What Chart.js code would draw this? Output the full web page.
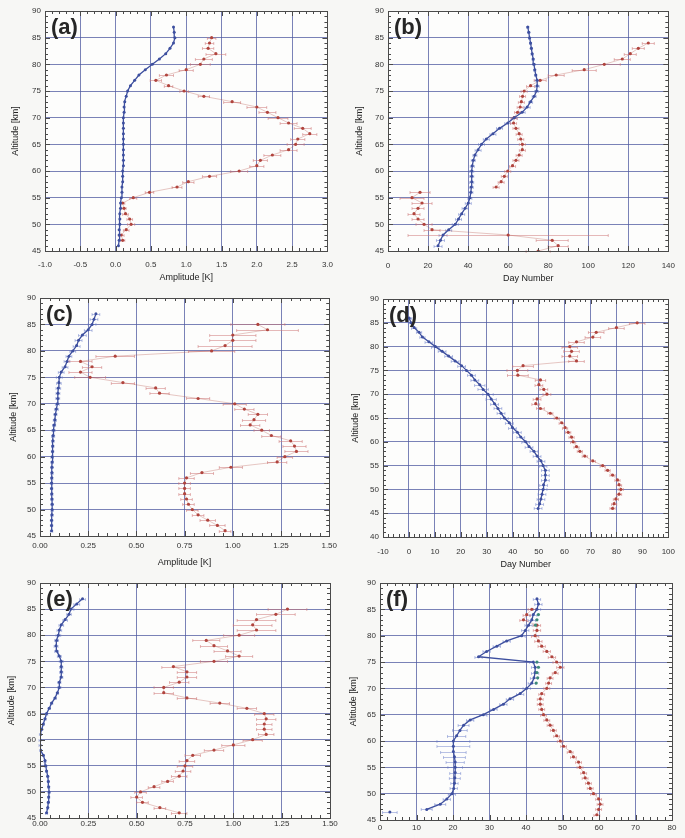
<!DOCTYPE html>
<html>
<head>
<meta charset="utf-8">
<script src="https://cdn.jsdelivr.net/npm/chart.js@4.4.1/dist/chart.umd.min.js"></script>
<style>
  html, body { margin: 0; padding: 0; background: #f7f7f5; }
  #fig { position: relative; width: 685px; height: 838px; overflow: hidden; }
  canvas { position: absolute; }
</style>
</head>
<body>
<div id="fig">
  <canvas id="pa"></canvas>
  <canvas id="pb"></canvas>
  <canvas id="pc"></canvas>
  <canvas id="pd"></canvas>
  <canvas id="pe"></canvas>
  <canvas id="pf"></canvas>
</div>
<script>
// altitude grid shared by all profiles (km)
const ALT_KM = [45, 46, 47, 48, 49, 50, 51, 52, 53, 54,
                55, 56, 57, 58, 59, 60, 61, 62, 63, 64,
                65, 66, 67, 68, 69, 70, 71, 72, 73, 74,
                75, 76, 77, 78, 79, 80, 81, 82, 83, 84,
                85, 86, 87, 88];

// (a) amplitude [K]
const A_BLUE = [null, 0.04, 0.05, 0.05, 0.05, 0.06, 0.06, 0.06, 0.07, 0.07,
                0.08, 0.09, 0.09, 0.10, 0.10, 0.10, 0.11, 0.11, 0.11, 0.11,
                0.11, 0.11, 0.11, 0.11, 0.11, 0.11, 0.12, 0.12, 0.13, 0.15,
                0.17, 0.21, 0.27, 0.33, 0.42, 0.52, 0.62, 0.71, 0.77, 0.82,
                0.84, 0.83, 0.82, null];
const A_RED = [null, null, 0.10, 0.08, 0.15, 0.22, 0.20, 0.14, 0.12, 0.10,
               0.25, 0.48, 0.87, 1.03, 1.33, 1.75, 2.00, 2.05, 2.22, 2.45,
               2.55, 2.58, 2.75, 2.65, 2.45, 2.30, 2.15, 2.00, 1.65, 1.25,
               0.97, 0.75, 0.57, 0.72, 1.00, 1.20, 1.25, 1.42, 1.31, 1.33,
               1.36, null, null, null];
const A_RED_ERR = [null, null, 0.03, 0.04, 0.04, 0.05, 0.04, 0.04, 0.03, 0.03,
                   0.05, 0.06, 0.07, 0.08, 0.10, 0.12, 0.10, 0.10, 0.12, 0.12,
                   0.12, 0.10, 0.10, 0.12, 0.12, 0.14, 0.12, 0.14, 0.12, 0.08,
                   0.06, 0.06, 0.08, 0.10, 0.10, 0.14, 0.12, 0.14, 0.08, 0.06,
                   0.06, null, null, null];

// (b) day number
const B_BLUE = [null, 25.0, 26.2, 27.5, 30.3, 33.6, 35.2, 36.8, 38.5, 40.1,
                40.9, 41.4, 41.6, 41.8, 41.8, 41.8, 42.1, 42.6, 43.4, 45.0,
                46.7, 49.1, 52.4, 55.7, 59.8, 63.0, 67.0, 69.5, 71.2, 73.0,
                74.2, 74.5, 74.5, 73.8, 73.3, 72.9, 72.5, 72.0, 71.6, 71.2,
                70.7, 70.3, 69.8, null];
const B_BLUE_ERR = [null, 2.0, 2.0, 2.0, 1.5, 1.5, 1.5, 1.5, 1.5, 1.5,
                    1.0, 1.0, 1.0, 1.0, 1.0, 1.0, 1.0, 1.0, 1.0, 1.5,
                    1.5, 1.5, 1.5, 1.5, 1.5, 1.5, 1.5, 1.5, 1.0, 1.0,
                    1.0, 1.0, 1.0, 0.5, 0.5, 0.5, 0.5, 0.5, 0.5, 0.5,
                    0.5, 0.5, 0.5, null];
const B_RED_HIGH = [null, null, null, null, null, null, null, null, null, null,
                    null, null, 54.0, 56.5, 58.1, 59.8, 62.2, 63.9, 65.5, 67.1,
                    67.1, 66.3, 65.5, 63.9, 62.7, 63.0, 64.7, 66.0, 66.6, 67.2,
                    68.0, 71.2, 76.0, 84.0, 98.0, 108.0, 117.0, 121.0, 125.0, 130.0,
                    null, null, null, null];
const B_RED_HIGH_ERR = [null, null, null, null, null, null, null, null, null, null,
                        null, null, 1.5, 1.5, 1.5, 1.5, 1.5, 1.5, 1.5, 1.5,
                        1.5, 1.5, 1.5, 1.5, 1.5, 1.5, 1.5, 1.5, 1.5, 1.5,
                        1.5, 2.0, 3.0, 4.0, 6.0, 8.0, 4.0, 3.0, 3.0, 3.0,
                        null, null, null, null];
const B_RED_LOW = [75.0, 85.0, 82.0, 60.0, 22.0, 18.0, 15.0, 13.0, 15.0, 17.0,
                   12.0, 16.0, null, null, null, null, null, null, null, null,
                   null, null, null, null, null, null, null, null, null, null,
                   null, null, null, null, null, null, null, null, null, null,
                   null, null, null, null];
const B_RED_LOW_ERR = [6, 5, 8, 50, 4, 4, 3, 3, 3, 5,
                       6, 5, null, null, null, null, null, null, null, null,
                       null, null, null, null, null, null, null, null, null, null,
                       null, null, null, null, null, null, null, null, null, null,
                       null, null, null, null];

// (c) amplitude [K]
const C_BLUE = [null, 0.060, 0.060, 0.060, 0.062, 0.063, 0.063, 0.062, 0.061, 0.060,
                0.060, 0.061, 0.062, 0.062, 0.063, 0.063, 0.065, 0.066, 0.067, 0.068,
                0.070, 0.073, 0.077, 0.080, 0.085, 0.090, 0.092, 0.093, 0.095, 0.098,
                0.100, 0.110, 0.130, 0.140, 0.150, 0.170, 0.190, 0.200, 0.220, 0.250,
                0.270, 0.280, 0.290, null];
const C_BLUE_ERR = [null, 0.006, 0.006, 0.006, 0.006, 0.006, 0.006, 0.006, 0.006, 0.006,
                    0.006, 0.006, 0.006, 0.006, 0.006, 0.006, 0.006, 0.006, 0.006, 0.008,
                    0.008, 0.008, 0.008, 0.008, 0.010, 0.010, 0.010, 0.010, 0.012, 0.012,
                    0.015, 0.015, 0.015, 0.015, 0.015, 0.015, 0.018, 0.018, 0.020, 0.020,
                    0.020, 0.020, 0.020, null];
const C_RED = [null, 0.96, 0.92, 0.87, 0.82, 0.79, 0.77, 0.76, 0.75, 0.75,
               0.75, 0.76, 0.84, 0.99, 1.23, 1.27, 1.33, 1.32, 1.30, 1.20,
               1.15, 1.09, 1.11, 1.13, 1.06, 1.01, 0.82, 0.62, 0.60, 0.43,
               0.26, 0.21, 0.27, 0.21, 0.39, 0.89, 0.96, 1.00, 1.00, 1.18,
               1.13, null, null, null];
const C_RED_ERR = [null, 0.03, 0.04, 0.04, 0.03, 0.03, 0.03, 0.03, 0.03, 0.03,
                   0.03, 0.04, 0.06, 0.06, 0.05, 0.04, 0.06, 0.06, 0.06, 0.05,
                   0.04, 0.05, 0.06, 0.05, 0.05, 0.06, 0.06, 0.05, 0.05, 0.06,
                   0.08, 0.06, 0.05, 0.06, 0.10, 0.12, 0.14, 0.12, 0.12, 0.16,
                   0.14, null, null, null];

// (d) day number
const D_BLUE = [null, 49.8, 50.4, 50.9, 51.3, 51.7, 51.9, 52.6, 52.6, 52.6,
                51.7, 50.9, 49.4, 48.2, 46.3, 45.0, 43.1, 41.8, 39.9, 38.7,
                36.8, 35.5, 34.3, 33.0, 31.7, 30.5, 28.6, 27.3, 25.4, 24.1,
                22.2, 20.3, 17.8, 15.3, 12.8, 10.2, 7.7, 5.2, 3.9, 2.0,
                0.8, 0.1, null, null];
const D_BLUE_ERR = [null, 1.5, 1.5, 1.5, 1.5, 1.5, 1.5, 1.5, 1.5, 1.5,
                    1.5, 1.5, 1.5, 1.5, 1.5, 1.5, 1.5, 1.5, 1.5, 1.5,
                    1.5, 1.5, 1.5, 1.5, 2.0, 2.0, 2.0, 2.0, 1.5, 1.5,
                    1.5, 1.5, 1.5, 1.5, 1.5, 1.5, 1.5, 1.0, 1.0, 1.0,
                    1.0, 1.0, null, null];
const D_RED = [null, 78.5, 79.1, 79.8, 81.0, 81.7, 81.0, 80.4, 78.5, 76.6,
               74.7, 70.9, 67.8, 65.9, 64.6, 63.3, 62.7, 61.4, 60.2, 58.9,
               57.0, 54.5, 50.7, 48.9, 49.4, 53.2, 52.0, 50.1, 50.7, 42.0,
               41.8, 44.0, 64.6, 62.0, 62.7, 62.0, 64.6, 70.9, 72.2, 80.0,
               88.0, null, null, null];
const D_RED_ERR = [null, 1.0, 1.0, 1.0, 1.0, 1.0, 1.0, 1.0, 1.0, 1.0,
                   1.0, 1.0, 1.0, 1.0, 1.0, 1.0, 1.0, 1.0, 1.0, 1.0,
                   1.0, 1.0, 1.5, 1.5, 1.5, 1.5, 1.5, 1.5, 2.0, 4.0,
                   4.0, 4.0, 3.0, 3.0, 3.0, 3.0, 3.0, 3.0, 3.0, 3.0,
                   3.0, null, null, null];

// (e) amplitude [K]
const E_BLUE = [null, 0.034, 0.040, 0.043, 0.045, 0.047, 0.045, 0.043, 0.040, 0.034,
                0.030, 0.026, 0.017, 0.003, 0.000, 0.000, 0.002, 0.009, 0.017, 0.026,
                0.034, 0.048, 0.060, 0.078, 0.090, 0.100, 0.100, 0.110, 0.110, 0.110,
                0.110, 0.100, 0.086, 0.083, 0.086, 0.095, 0.100, 0.110, 0.130, 0.150,
                0.160, 0.190, 0.220, null];
const E_BLUE_ERR = [null, 0.005, 0.005, 0.005, 0.005, 0.005, 0.005, 0.005, 0.005, 0.005,
                    0.005, 0.005, 0.005, 0.005, 0.005, 0.005, 0.005, 0.005, 0.005, 0.005,
                    0.006, 0.006, 0.006, 0.006, 0.006, 0.008, 0.008, 0.008, 0.008, 0.008,
                    0.010, 0.010, 0.010, 0.010, 0.010, 0.012, 0.012, 0.012, 0.012, 0.012,
                    0.015, 0.015, 0.015, null];
const E_RED = [null, 0.72, 0.62, 0.53, 0.50, 0.52, 0.59, 0.66, 0.72, 0.74,
               0.75, 0.76, 0.79, 0.90, 1.00, 1.10, 1.17, 1.16, 1.16, 1.17,
               1.16, 1.07, 0.93, 0.76, 0.64, 0.64, 0.72, 0.76, 0.76, 0.69,
               0.90, 1.03, 0.97, 0.90, 0.86, 1.03, 1.12, 1.10, 1.12, 1.22,
               1.28, null, null, null];
const E_RED_ERR = [null, 0.04, 0.03, 0.03, 0.03, 0.03, 0.03, 0.03, 0.04, 0.04,
                   0.04, 0.04, 0.04, 0.05, 0.06, 0.05, 0.04, 0.04, 0.04, 0.05,
                   0.05, 0.05, 0.05, 0.05, 0.05, 0.05, 0.05, 0.05, 0.05, 0.06,
                   0.07, 0.07, 0.07, 0.07, 0.07, 0.08, 0.10, 0.10, 0.10, 0.10,
                   0.10, null, null, null];

// (f) day number
const F_BLUE = [null, null, 12.8, 16.5, 18.3, 19.7, 20.2, 20.4, 20.5, 20.6,
                20.6, 20.6, 20.4, 20.1, 20.1, 20.1, 21.0, 21.9, 22.9, 24.7,
                28.3, 31.1, 33.8, 35.6, 38.4, 40.2, 41.6, 42.2, 42.5, 42.5,
                42.0, 27.0, 29.2, 32.0, 34.7, 38.8, 39.8, 40.7, 41.6, 42.0,
                43.0, 43.4, 43.0, null];
const F_BLUE_ERR = [null, null, 1.5, 1.5, 1.0, 1.0, 1.0, 1.0, 1.5, 1.5,
                    2.0, 2.5, 3.0, 3.5, 4.5, 4.5, 2.5, 2.0, 1.5, 1.0,
                    1.0, 1.0, 1.0, 1.0, 1.0, 1.0, 1.0, 1.0, 1.0, 1.0,
                    1.0, 1.0, 1.0, 1.0, 1.0, 1.0, 1.0, 1.0, 1.0, 1.0,
                    1.0, 1.0, 1.0, null];
const F_GREEN = [null, null, null, null, null, null, null, null, null, null,
                 null, null, null, null, null, null, null, null, null, null,
                 null, null, null, null, null, null, 42.8, 43.2, 43.0, 43.4,
                 43.0, null, null, null, null, null, null, 42.6, 43.0, 43.4,
                 null, null, null, null];
const F_RED = [null, 59.4, 59.9, 60.3, 59.9, 58.5, 57.6, 57.1, 56.2, 55.8,
               54.8, 54.4, 53.0, 52.1, 50.3, 49.4, 48.4, 47.5, 46.6, 45.7,
               44.8, 44.3, 43.9, 43.9, 44.3, 45.7, 46.2, 46.6, 48.0, 49.4,
               48.4, 47.1, 45.7, 44.3, 43.4, 42.5, 43.0, 43.0, 39.3, 40.2,
               41.6, null, null, null];
const F_RED_ERR = [null, 0.8, 0.8, 0.8, 0.8, 0.8, 0.8, 0.8, 0.8, 0.8,
                   0.8, 0.8, 0.8, 0.8, 0.8, 0.8, 0.8, 0.8, 0.8, 0.8,
                   0.8, 0.8, 0.8, 0.8, 0.8, 0.8, 0.8, 0.8, 0.8, 1.0,
                   1.0, 1.0, 1.0, 1.0, 1.0, 1.0, 1.0, 1.0, 1.0, 1.0,
                   1.0, null, null, null];
const F_OUTLIER_ALT = [46.5];
const F_OUTLIER_DAY = [2.7];
const F_OUTLIER_ERR = [2.0];

const BLUE = '#3d4f9f';
const RED = '#b0443d';
const GREEN = '#3d8a78';
const GRID = 'rgba(78, 88, 160, 0.75)';

Chart.defaults.font.family = "'Liberation Sans', Arial, sans-serif";
Chart.defaults.color = '#333';

function profile(vals, errs, alts) {
  const a = alts || ALT_KM;
  const pts = [], e = [];
  a.forEach((alt, i) => {
    if (vals[i] === null) return;
    pts.push({ x: vals[i], y: alt });
    e.push(errs ? errs[i] : null);
  });
  return { pts, e };
}

function blueSet(vals, errs, alts) {
  const p = profile(vals, errs, alts);
  return {
    data: p.pts, errors: p.e, errColor: 'rgba(100,120,200,0.45)',
    borderColor: BLUE, backgroundColor: BLUE, borderWidth: 1.3,
    pointRadius: 1.5, pointBorderWidth: 0, showLine: true
  };
}

function redSet(vals, errs) {
  const p = profile(vals, errs);
  return {
    data: p.pts, errors: p.e, errColor: 'rgba(205,115,115,0.5)',
    borderColor: 'rgba(176,68,61,0.3)', backgroundColor: RED, borderWidth: 1,
    pointRadius: 1.6, pointBorderWidth: 0, showLine: true
  };
}

// error bars, inward minor ticks, frame and panel letter
const panelDecor = {
  id: 'panelDecor',
  beforeDraw(chart) {
    const { ctx, chartArea: c } = chart;
    ctx.save();
    ctx.fillStyle = '#fdfdfc';
    ctx.fillRect(c.left, c.top, c.right - c.left, c.bottom - c.top);
    ctx.restore();
  },
  beforeDatasetsDraw(chart) {
    const { ctx } = chart;
    const xs = chart.scales.x, ys = chart.scales.y;
    ctx.save();
    ctx.lineWidth = 1;
    chart.data.datasets.forEach(ds => {
      if (!ds.errors) return;
      ctx.strokeStyle = ds.errColor;
      ds.data.forEach((p, i) => {
        const e = ds.errors[i];
        if (e == null) return;
        const py = Math.round(ys.getPixelForValue(p.y)) + 0.5;
        const x0 = xs.getPixelForValue(p.x - e), x1 = xs.getPixelForValue(p.x + e);
        ctx.beginPath();
        ctx.moveTo(x0, py); ctx.lineTo(x1, py);
        ctx.moveTo(x0, py - 1.5); ctx.lineTo(x0, py + 1.5);
        ctx.moveTo(x1, py - 1.5); ctx.lineTo(x1, py + 1.5);
        ctx.stroke();
      });
    });
    ctx.restore();
  },
  afterDraw(chart, args, opts) {
    const { ctx, chartArea: c } = chart;
    const xs = chart.scales.x, ys = chart.scales.y;
    ctx.save();
    ctx.strokeStyle = '#4a4a4a';
    ctx.lineWidth = 1;
    const xo = xs.options, yo = ys.options;
    const nx = Math.round((xo.max - xo.min) / opts.xMinor);
    for (let k = 0; k <= nx; k++) {
      const v = xo.min + k * opts.xMinor;
      const major = Math.abs(((v - xo.min) / xo.ticks.stepSize) - Math.round((v - xo.min) / xo.ticks.stepSize)) < 1e-6;
      const len = major ? 5 : 3;
      const px = Math.round(xs.getPixelForValue(v)) + 0.5;
      ctx.beginPath();
      ctx.moveTo(px, c.bottom); ctx.lineTo(px, c.bottom - len);
      ctx.moveTo(px, c.top); ctx.lineTo(px, c.top + len);
      ctx.stroke();
    }
    const ny = Math.round((yo.max - yo.min) / opts.yMinor);
    for (let k = 0; k <= ny; k++) {
      const v = yo.min + k * opts.yMinor;
      const major = (k * opts.yMinor) % yo.ticks.stepSize === 0;
      const len = major ? 5 : 3;
      const py = Math.round(ys.getPixelForValue(v)) + 0.5;
      ctx.beginPath();
      ctx.moveTo(c.left, py); ctx.lineTo(c.left + len, py);
      ctx.moveTo(c.right, py); ctx.lineTo(c.right - len, py);
      ctx.stroke();
    }
    ctx.strokeRect(Math.round(c.left) + 0.5, Math.round(c.top) + 0.5,
                   Math.round(c.right - c.left), Math.round(c.bottom - c.top));
    ctx.fillStyle = '#262626';
    ctx.font = "600 22px 'Liberation Sans', Arial, sans-serif";
    ctx.textBaseline = 'top';
    ctx.fillText(opts.label, c.left + 6, c.top + 6);
    ctx.restore();
  }
};

function makePanel(id, p) {
  const cv = document.getElementById(id);
  cv.width = p.w; cv.height = p.h;
  cv.style.left = p.left + 'px'; cv.style.top = p.top + 'px';
  cv.style.width = p.w + 'px'; cv.style.height = p.h + 'px';
  return new Chart(cv.getContext('2d'), {
    type: 'scatter',
    data: { datasets: p.datasets },
    options: {
      responsive: false,
      animation: false,
      layout: { padding: { left: 0, right: p.padRight, top: p.padTop, bottom: 0 } },
      plugins: {
        legend: { display: false },
        tooltip: { enabled: false },
        panelDecor: { label: p.label, xMinor: p.xMinor, yMinor: 1 }
      },
      scales: {
        x: {
          type: 'linear', position: 'bottom', min: p.xMin, max: p.xMax,
          ticks: { stepSize: p.xStep, autoSkip: false, maxRotation: 0, padding: p.xTickPad,
                   font: { size: 8 }, color: '#333',
                   callback: v => Number(v).toFixed(p.xDec) },
          grid: { color: GRID, lineWidth: 1, drawTicks: false },
          border: { display: false },
          title: { display: !!p.xTitle, text: p.xTitle || '', font: { size: 9 }, color: '#222',
                   padding: { top: 0, bottom: p.xTitlePad } },
          afterFit: s => { s.height = p.xAxisH; }
        },
        y: {
          type: 'linear', min: p.yMin, max: 90,
          ticks: { stepSize: 5, autoSkip: false, padding: 4, font: { size: 8 }, color: '#333' },
          grid: { color: GRID, lineWidth: 1, drawTicks: false },
          border: { display: false },
          title: { display: true, text: 'Altitude [km]', font: { size: 9 }, color: '#222',
                   padding: { top: p.yTitlePad, bottom: 0 } },
          afterFit: s => { s.width = p.yAxisW; }
        }
      }
    },
    plugins: [panelDecor]
  });
}

document.addEventListener('DOMContentLoaded', () => {
  makePanel('pa', {
    left: 0, top: 0, w: 342, h: 285, yAxisW: 45, xAxisH: 34, padTop: 11, padRight: 9,
    xMin: -1, xMax: 3, xStep: 0.5, xDec: 1, xMinor: 0.1, yMin: 45,
    xTickPad: 9, xTitle: 'Amplitude [K]', xTitlePad: 2, yTitlePad: 10, label: '(a)',
    datasets: [blueSet(A_BLUE, null), redSet(A_RED, A_RED_ERR)]
  });
  makePanel('pb', {
    left: 342, top: 0, w: 343, h: 285, yAxisW: 46, xAxisH: 34, padTop: 11, padRight: 12,
    xMin: 0, xMax: 140, xStep: 20, xDec: 0, xMinor: 5, yMin: 45,
    xTickPad: 10, xTitle: 'Day Number', xTitlePad: 1, yTitlePad: 12, label: '(b)',
    datasets: [blueSet(B_BLUE, B_BLUE_ERR), redSet(B_RED_HIGH, B_RED_HIGH_ERR), redSet(B_RED_LOW, B_RED_LOW_ERR)]
  });
  makePanel('pc', {
    left: 0, top: 285, w: 342, h: 285, yAxisW: 40, xAxisH: 34, padTop: 13, padRight: 10,
    xMin: 0, xMax: 1.5, xStep: 0.25, xDec: 2, xMinor: 0.05, yMin: 45,
    xTickPad: 5, xTitle: 'Amplitude [K]', xTitlePad: 2, yTitlePad: 8, label: '(c)',
    datasets: [blueSet(C_BLUE, C_BLUE_ERR), redSet(C_RED, C_RED_ERR)]
  });
  makePanel('pd', {
    left: 342, top: 285, w: 343, h: 285, yAxisW: 41, xAxisH: 33, padTop: 14, padRight: 12,
    xMin: -10, xMax: 100, xStep: 10, xDec: 0, xMinor: 2, yMin: 40,
    xTickPad: 10, xTitle: 'Day Number', xTitlePad: 0, yTitlePad: 8, label: '(d)',
    datasets: [blueSet(D_BLUE, D_BLUE_ERR), redSet(D_RED, D_RED_ERR)]
  });
  makePanel('pe', {
    left: 0, top: 570, w: 342, h: 268, yAxisW: 40, xAxisH: 20, padTop: 13, padRight: 12,
    xMin: 0, xMax: 1.5, xStep: 0.25, xDec: 2, xMinor: 0.05, yMin: 45,
    xTickPad: 1, xTitle: '', xTitlePad: 0, yTitlePad: 6, label: '(e)',
    datasets: [blueSet(E_BLUE, E_BLUE_ERR), redSet(E_RED, E_RED_ERR)]
  });
  const green = profile(F_GREEN, null);
  makePanel('pf', {
    left: 342, top: 570, w: 343, h: 268, yAxisW: 38, xAxisH: 18, padTop: 13, padRight: 13,
    xMin: 0, xMax: 80, xStep: 10, xDec: 0, xMinor: 2, yMin: 45,
    xTickPad: 3, xTitle: '', xTitlePad: 0, yTitlePad: 6, label: '(f)',
    datasets: [
      { data: green.pts, backgroundColor: GREEN, pointRadius: 1.6, pointBorderWidth: 0, showLine: false },
      blueSet(F_BLUE, F_BLUE_ERR),
      blueSet(F_OUTLIER_DAY, F_OUTLIER_ERR, F_OUTLIER_ALT),
      redSet(F_RED, F_RED_ERR)
    ]
  });
});
</script>
</body>
</html>
